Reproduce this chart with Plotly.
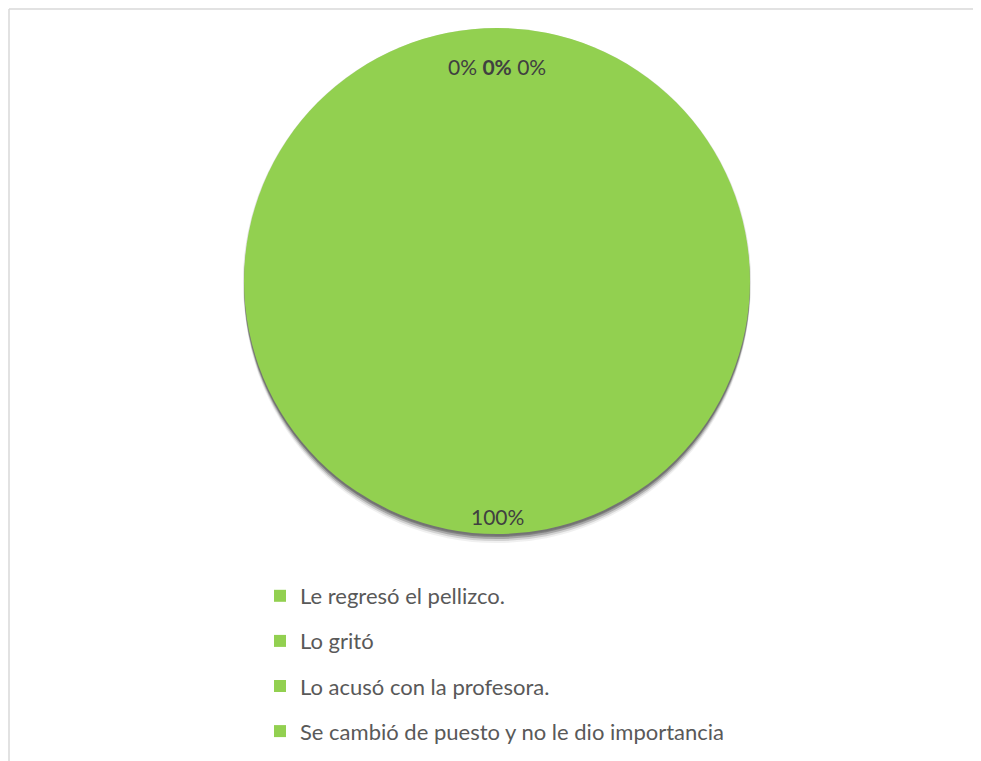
import plotly.graph_objects as go

categories = [
    "Le regresó el pellizco.",
    "Lo gritó",
    "Lo acusó con la profesora.",
    "Se cambió de puesto y no le dio importancia",
]
values = [0, 0, 0, 100]
colors = ["#92D050", "#92D050", "#92D050", "#92D050"]

# the page body adds an 8px margin, so the figure starts at (8, 8)
W, H = 973, 753
cx, cy, r = 489, 273, 253

total = sum(values)
pcts = [f"{round(v / total * 100)}%" for v in values]

fig = go.Figure()

# soft shadow behind pie
shadow_layers = [(1, 1, 0.14), (0, 3, 0.30), (0, 5, 0.25), (0, 7, 0.15), (0, 9, 0.07)]
shapes = []
for grow, off, op in shadow_layers:
    shapes.append(dict(
        type="circle", xref="paper", yref="paper", layer="below",
        x0=(cx - r - grow) / W, x1=(cx + r + grow) / W,
        y0=1 - (cy + r + off + grow) / H, y1=1 - (cy - r + off - grow) / H,
        fillcolor=f"rgba(40,40,40,{op})", line=dict(width=0),
    ))
# border (top and left)
shapes.append(dict(type="line", xref="paper", yref="paper", x0=1 / W, x1=1, y0=1 - 1 / H, y1=1 - 1 / H,
                   line=dict(color="#d9d9d9", width=1.5)))
shapes.append(dict(type="line", xref="paper", yref="paper", x0=1 / W, x1=1 / W, y0=0, y1=1 - 1 / H,
                   line=dict(color="#d9d9d9", width=1.5)))

fig.add_trace(go.Pie(
    labels=categories,
    values=values,
    sort=False,
    direction="clockwise",
    rotation=0,
    marker=dict(colors=colors, line=dict(width=0)),
    textinfo="none",
    hoverinfo="label+percent",
    domain=dict(x=[(cx - r) / W, (cx + r) / W], y=[1 - (cy + r) / H, 1 - (cy - r) / H]),
    showlegend=False,
))

# legend entries for each category (spaced like the original)
for i, (cat, col) in enumerate(zip(categories, colors)):
    fig.add_trace(go.Scatter(
        x=[None], y=[None], mode="markers", name=cat,
        marker=dict(symbol="square", size=12, color=col),
        legendgroup=f"g{i}", showlegend=True, hoverinfo="skip",
    ))

top_text = " ".join(
    (f"<b>{p}</b>" if i == 1 else p) for i, p in enumerate(pcts[:3])
)
annotations = [
    dict(text=top_text, x=cx / W, y=1 - 58 / H, xref="paper", yref="paper",
         xanchor="center", yanchor="middle",
         showarrow=False, font=dict(family="Lato", size=21, color="#404040")),
    dict(text=pcts[3], x=cx / W, y=1 - 509 / H, xref="paper", yref="paper",
         xanchor="center", yanchor="middle",
         showarrow=False, font=dict(family="Lato", size=21, color="#404040")),
]

fig.update_layout(
    width=W, height=H,
    margin=dict(l=0, r=0, t=0, b=0),
    paper_bgcolor="white",
    plot_bgcolor="white",
    xaxis=dict(visible=False),
    yaxis=dict(visible=False),
    shapes=shapes,
    annotations=annotations,
    legend=dict(
        x=252 / W, y=1 - 567 / H, xanchor="left", yanchor="top",
        font=dict(family="Lato", size=22, color="#595959"),
        bgcolor="rgba(0,0,0,0)",
        tracegroupgap=13.5,
        traceorder="grouped",
    ),
)

fig.write_html("out.html")
